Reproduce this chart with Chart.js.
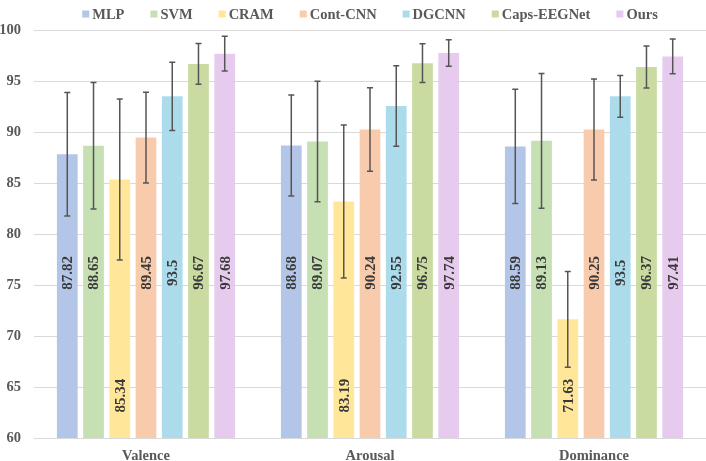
<!DOCTYPE html>
<html>
<head>
<meta charset="utf-8">
<script src="https://cdn.jsdelivr.net/npm/chart.js@4"></script>
<style>
  html, body { margin: 0; padding: 0; background: #fff; }
</style>
</head>
<body>
<canvas id="chart" width="706" height="461"></canvas>
<script>
// data
const categories = ["Valence", "Arousal", "Dominance"];
const methods = ["MLP", "SVM", "CRAM", "Cont-CNN", "DGCNN", "Caps-EEGNet", "Ours"];
const colors = ["#b4c6e7", "#c6e0b4", "#ffe699", "#f8cbad", "#acdcec", "#c9dba0", "#e6cbee"];

const mlp      = [87.82, 88.68, 88.59];
const svm      = [88.65, 89.07, 89.13];
const cram     = [85.34, 83.19, 71.63];
const contCnn  = [89.45, 90.24, 90.25];
const dgcnn    = [93.5, 92.55, 93.5];
const capsEeg  = [96.67, 96.75, 96.37];
const ours     = [97.68, 97.74, 97.41];

// std (error bar half length), estimated from the whiskers
const mlpErr     = [6.05, 4.95, 5.6];
const svmErr     = [6.2, 5.9, 6.6];
const cramErr    = [7.9, 7.5, 4.7];
const contCnnErr = [4.45, 4.1, 4.95];
const dgcnnErr   = [3.35, 3.95, 2.05];
const capsEegErr = [2.0, 1.9, 2.05];
const oursErr    = [1.7, 1.3, 1.7];

const yTicks = [60, 65, 70, 75, 80, 85, 90, 95, 100];

const series = [mlp, svm, cram, contCnn, dgcnn, capsEeg, ours];
const errors = [mlpErr, svmErr, cramErr, contCnnErr, dgcnnErr, capsEegErr, oursErr];

const FONT = "'Liberation Serif', 'Times New Roman', serif";

const errorBars = {
    id: 'errorBars',
    afterDatasetsDraw(chart) {
        const ctx = chart.ctx, y = chart.scales.y;
        ctx.save();
        ctx.strokeStyle = '#555555';
        ctx.lineWidth = 1.5;
        chart.data.datasets.forEach((ds, i) => {
            chart.getDatasetMeta(i).data.forEach((bar, j) => {
                const v = ds.data[j], e = ds.err[j];
                const top = y.getPixelForValue(v + e), bot = y.getPixelForValue(v - e);
                ctx.beginPath();
                ctx.moveTo(bar.x, top); ctx.lineTo(bar.x, bot);
                ctx.moveTo(bar.x - 3, top); ctx.lineTo(bar.x + 3, top);
                ctx.moveTo(bar.x - 3, bot); ctx.lineTo(bar.x + 3, bot);
                ctx.stroke();
            });
        });
        ctx.restore();
    }
};

// vertical value labels; pushed down when the whisker would run through them
const barLabels = {
    id: 'barLabels',
    afterDatasetsDraw(chart) {
        const ctx = chart.ctx, y = chart.scales.y;
        ctx.save();
        ctx.fillStyle = '#3a3a3a';
        ctx.font = "bold 15px " + FONT;
        ctx.textAlign = 'center';
        ctx.textBaseline = 'middle';
        chart.data.datasets.forEach((ds, i) => {
            chart.getDatasetMeta(i).data.forEach((bar, j) => {
                const v = ds.data[j], e = ds.err[j];
                const at = (v - e < 79) ? 64.15 : 76.2;
                ctx.save();
                ctx.translate(bar.x, y.getPixelForValue(at));
                ctx.rotate(-Math.PI / 2);
                ctx.fillText(String(v), 0, 1);
                ctx.restore();
            });
        });
        ctx.restore();
    }
};

// one-row legend centred over the plot area
const legendRow = {
    id: 'legendRow',
    afterDraw(chart) {
        const ctx = chart.ctx, area = chart.chartArea;
        const box = 7, gapText = 3, gap = 26, cy = 14;
        ctx.save();
        ctx.font = "bold 14.5px " + FONT;
        ctx.textBaseline = 'middle';
        const items = chart.data.datasets.map(ds => ({ label: ds.label, color: ds.backgroundColor, w: ctx.measureText(ds.label).width }));
        const total = items.reduce((acc, it) => acc + box + gapText + it.w, 0) + gap * (items.length - 1);
        let x = (area.left + area.right) / 2 - total / 2;
        items.forEach(it => {
            ctx.fillStyle = it.color;
            ctx.fillRect(x, cy - 3.5, box, box);
            ctx.fillStyle = '#595959';
            ctx.fillText(it.label, x + box + gapText, cy + 1);
            x += box + gapText + it.w + gap;
        });
        ctx.restore();
    }
};

new Chart(document.getElementById("chart"), {
    type: 'bar',
    data: {
        labels: categories,
        datasets: methods.map((m, i) => ({
            label: m,
            data: series[i],
            err: errors[i],
            backgroundColor: colors[i],
            borderWidth: 0,
            categoryPercentage: 0.82,
            barPercentage: 0.79
        }))
    },
    options: {
        responsive: false,
        animation: false,
        layout: { padding: { top: 30, left: 0, right: 0, bottom: 0 } },
        plugins: { legend: { display: false }, tooltip: { enabled: false } },
        scales: {
            x: {
                grid: { display: false, drawTicks: false },
                border: { display: false },
                ticks: { padding: 10, color: '#595959', font: { family: FONT, size: 14.5, weight: 'bold' } },
                afterFit: s => { s.height = 23; }
            },
            y: {
                min: 60, max: 100,
                afterBuildTicks: s => { s.ticks = yTicks.map(v => ({ value: v })); },
                afterFit: s => { s.width = 34; },
                grid: { color: '#d9d9d9', drawTicks: false },
                border: { display: false },
                ticks: { padding: 13, color: '#595959', font: { family: FONT, size: 14.5, weight: 'bold' } }
            }
        }
    },
    plugins: [errorBars, barLabels, legendRow]
});
</script>
</body>
</html>
